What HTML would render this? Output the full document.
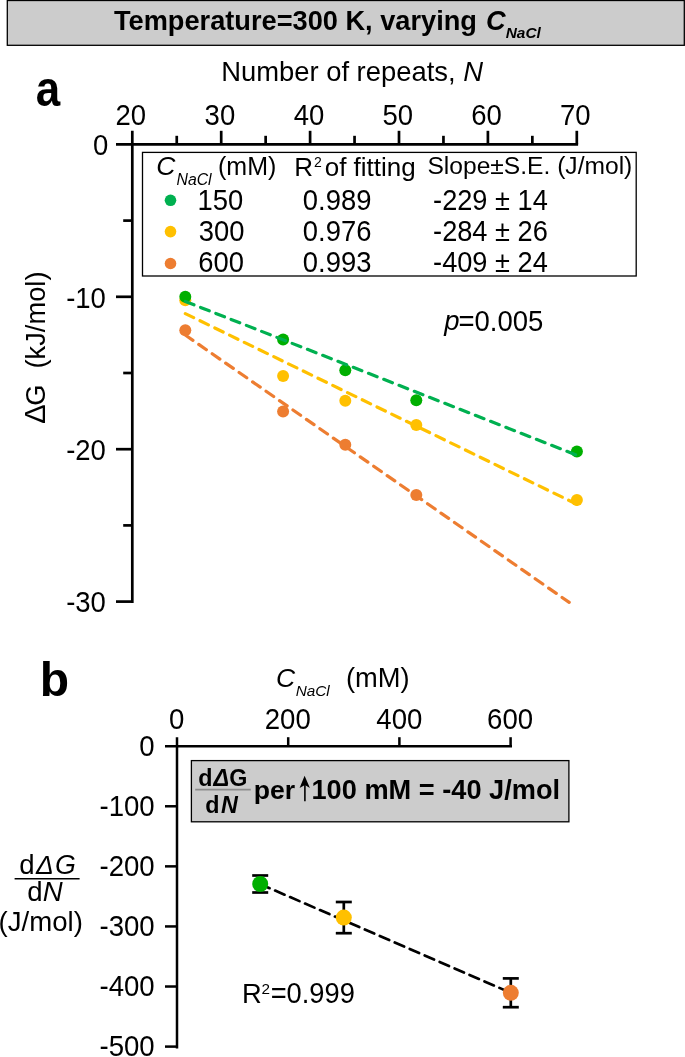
<!DOCTYPE html>
<html><head><meta charset="utf-8"><style>
html,body{margin:0;padding:0;background:#fff;width:685px;height:1057px;overflow:hidden}
svg{display:block;font-family:"Liberation Sans", sans-serif;will-change:transform}
</style></head><body>
<svg width="685" height="1057" viewBox="0 0 685 1057" font-family='"Liberation Sans", sans-serif'>
<rect x="7.3" y="0.5" width="677" height="44.8" fill="#cccccc" stroke="#000" stroke-width="1.3"/>
<text x="113.99" y="29.5" font-size="27.2" font-weight="bold" font-style="normal" >Temperature=300 K, varying </text>
<text x="486.07" y="29.5" font-size="27.2" font-weight="bold" font-style="italic" >C</text>
<text x="505.73" y="37.8" font-size="15.4" font-weight="bold" font-style="italic" >NaCl</text>
<g transform="translate(37.1,105.6) scale(0.915,1.03)">
<text x="-1.41" y="0" font-size="48" font-weight="bold" font-style="normal" >a</text>
</g>
<text x="221.15" y="81.3" font-size="27.4" font-weight="normal" font-style="normal" >Number of repeats, </text>
<text x="463.20" y="81.3" font-size="27.4" font-weight="normal" font-style="italic" >N</text>
<line x1="116.00" y1="144.40" x2="578.10" y2="144.40" stroke="#000" stroke-width="2.7" />
<line x1="132.30" y1="130.80" x2="132.30" y2="603.00" stroke="#000" stroke-width="2.7" />
<line x1="176.75" y1="135.80" x2="176.75" y2="144.40" stroke="#000" stroke-width="2.7" />
<line x1="221.20" y1="130.80" x2="221.20" y2="144.40" stroke="#000" stroke-width="2.7" />
<line x1="265.65" y1="135.80" x2="265.65" y2="144.40" stroke="#000" stroke-width="2.7" />
<line x1="310.10" y1="130.80" x2="310.10" y2="144.40" stroke="#000" stroke-width="2.7" />
<line x1="354.55" y1="135.80" x2="354.55" y2="144.40" stroke="#000" stroke-width="2.7" />
<line x1="399.00" y1="130.80" x2="399.00" y2="144.40" stroke="#000" stroke-width="2.7" />
<line x1="443.45" y1="135.80" x2="443.45" y2="144.40" stroke="#000" stroke-width="2.7" />
<line x1="487.90" y1="130.80" x2="487.90" y2="144.40" stroke="#000" stroke-width="2.7" />
<line x1="532.35" y1="135.80" x2="532.35" y2="144.40" stroke="#000" stroke-width="2.7" />
<line x1="576.80" y1="130.80" x2="576.80" y2="144.40" stroke="#000" stroke-width="2.7" />
<text transform="translate(115.55,124.8) scale(1,1.055)" font-size="27.5" font-weight="normal" font-style="normal" >20</text>
<text transform="translate(204.62,124.8) scale(1,1.055)" font-size="27.5" font-weight="normal" font-style="normal" >30</text>
<text transform="translate(293.73,124.8) scale(1,1.055)" font-size="27.5" font-weight="normal" font-style="normal" >40</text>
<text transform="translate(382.39,124.8) scale(1,1.055)" font-size="27.5" font-weight="normal" font-style="normal" >50</text>
<text transform="translate(471.14,124.8) scale(1,1.055)" font-size="27.5" font-weight="normal" font-style="normal" >60</text>
<text transform="translate(560.04,124.8) scale(1,1.055)" font-size="27.5" font-weight="normal" font-style="normal" >70</text>
<line x1="123.20" y1="220.60" x2="132.30" y2="220.60" stroke="#000" stroke-width="2.7" />
<line x1="116.00" y1="296.80" x2="132.30" y2="296.80" stroke="#000" stroke-width="2.7" />
<line x1="123.20" y1="373.00" x2="132.30" y2="373.00" stroke="#000" stroke-width="2.7" />
<line x1="116.00" y1="449.20" x2="132.30" y2="449.20" stroke="#000" stroke-width="2.7" />
<line x1="123.20" y1="525.40" x2="132.30" y2="525.40" stroke="#000" stroke-width="2.7" />
<line x1="116.00" y1="601.60" x2="132.30" y2="601.60" stroke="#000" stroke-width="2.7" />
<text transform="translate(93.08,155.2) scale(1,1.055)" font-size="27.5" font-weight="normal" font-style="normal" >0</text>
<text transform="translate(66.13,307.6) scale(1,1.055)" font-size="27.5" font-weight="normal" font-style="normal" >-10</text>
<text transform="translate(66.13,460.0) scale(1,1.055)" font-size="27.5" font-weight="normal" font-style="normal" >-20</text>
<text transform="translate(66.13,612.4) scale(1,1.055)" font-size="27.5" font-weight="normal" font-style="normal" >-30</text>
<g transform="translate(45.3,0) rotate(-90)">
<text x="-423.86" y="0" font-size="29" font-weight="normal" font-style="normal" >Δ</text>
<text x="-405.87" y="0" font-size="27.3" font-weight="normal" font-style="normal" >G</text>
<text x="-368.59" y="0" font-size="27.3" font-weight="normal" font-style="normal" >(kJ/mol)</text>
</g>
<rect x="142.5" y="152.4" width="493.7" height="123.6" fill="#fff" stroke="#000" stroke-width="1.3"/>
<text x="156.14" y="174.8" font-size="26.5" font-weight="normal" font-style="italic" >C</text>
<text x="176.51" y="184.6" font-size="15.8" font-weight="normal" font-style="italic" >NaCl</text>
<text x="218.05" y="175.3" font-size="25.0" font-weight="normal" font-style="normal" >(mM)</text>
<text x="294.37" y="176.0" font-size="26" font-weight="normal" font-style="normal" >R</text>
<text x="314.10" y="166.6" font-size="14" font-weight="normal" font-style="normal" >2</text>
<text x="324.71" y="176.0" font-size="26" font-weight="normal" font-style="normal" >of fitting</text>
<text x="427.48" y="173.9" font-size="24.6" font-weight="normal" font-style="normal" >Slope±S.E. (J/mol)</text>
<circle cx="170.5" cy="200.3" r="5.8" fill="#00B050"/>
<text transform="translate(197.61,210.10000000000002) scale(1,1.055)" font-size="27.4" font-weight="normal" font-style="normal" >150</text>
<text transform="translate(302.83,210.10000000000002) scale(1,1.055)" font-size="27.4" font-weight="normal" font-style="normal" >0.989</text>
<text transform="translate(433.09,210.10000000000002) scale(1,1.055)" font-size="27.2" font-weight="normal" font-style="normal" >-229 ± 14</text>
<circle cx="170.5" cy="231.6" r="5.8" fill="#FFC000"/>
<text transform="translate(198.66,240.9) scale(1,1.055)" font-size="27.4" font-weight="normal" font-style="normal" >300</text>
<text transform="translate(302.83,240.9) scale(1,1.055)" font-size="27.4" font-weight="normal" font-style="normal" >0.976</text>
<text transform="translate(433.09,240.9) scale(1,1.055)" font-size="27.2" font-weight="normal" font-style="normal" >-284 ± 26</text>
<circle cx="170.5" cy="263.5" r="5.8" fill="#ED7D31"/>
<text transform="translate(198.31,271.5) scale(1,1.055)" font-size="27.4" font-weight="normal" font-style="normal" >600</text>
<text transform="translate(302.83,271.5) scale(1,1.055)" font-size="27.4" font-weight="normal" font-style="normal" >0.993</text>
<text transform="translate(433.09,271.5) scale(1,1.055)" font-size="27.2" font-weight="normal" font-style="normal" >-409 ± 24</text>
<text x="444.18" y="329.7" font-size="27.5" font-weight="normal" font-style="italic" >p</text>
<text transform="translate(458.48,330.6) scale(1,1.055)" font-size="27.5" font-weight="normal" font-style="normal" >=0.005</text>
<circle cx="185.3" cy="300.3" r="6" fill="#FFC000"/>
<circle cx="283.1" cy="376.0" r="6" fill="#FFC000"/>
<circle cx="345.3" cy="400.8" r="6" fill="#FFC000"/>
<circle cx="416.3" cy="425.0" r="6" fill="#FFC000"/>
<circle cx="576.9" cy="499.9" r="6" fill="#FFC000"/>
<circle cx="185.3" cy="296.7" r="6" fill="#00AF00"/>
<circle cx="283.1" cy="339.5" r="6" fill="#00AF00"/>
<circle cx="345.3" cy="370.3" r="6" fill="#00AF00"/>
<circle cx="416.3" cy="400.2" r="6" fill="#00AF00"/>
<circle cx="576.9" cy="451.6" r="6" fill="#00AF00"/>
<circle cx="185.3" cy="330.3" r="6" fill="#ED7D31"/>
<circle cx="283.1" cy="411.5" r="6" fill="#ED7D31"/>
<circle cx="345.3" cy="444.8" r="6" fill="#ED7D31"/>
<circle cx="416.3" cy="495.0" r="6" fill="#ED7D31"/>
<line x1="185.30" y1="301.40" x2="576.90" y2="455.20" stroke="#00B050" stroke-width="3.2" stroke-dasharray="9.3 7.1" stroke-linecap="round"/>
<line x1="185.30" y1="313.60" x2="576.90" y2="504.30" stroke="#FFC000" stroke-width="3.2" stroke-dasharray="9.3 7.1" stroke-linecap="round"/>
<line x1="185.30" y1="335.00" x2="569.20" y2="602.40" stroke="#ED7D31" stroke-width="3.2" stroke-dasharray="9.3 7.1" stroke-linecap="round"/>
<text x="39.84" y="696.0" font-size="48" font-weight="bold" font-style="normal" >b</text>
<text x="276.04" y="686.5" font-size="26.5" font-weight="normal" font-style="italic" >C</text>
<text x="295.73" y="695.9" font-size="15.3" font-weight="normal" font-style="italic" >NaCl</text>
<text x="345.91" y="686.5" font-size="27.3" font-weight="normal" font-style="normal" >(mM)</text>
<line x1="165.00" y1="746.20" x2="512.00" y2="746.20" stroke="#000" stroke-width="2.5" />
<line x1="177.00" y1="737.20" x2="177.00" y2="1048.50" stroke="#000" stroke-width="2.5" />
<line x1="288.20" y1="737.20" x2="288.20" y2="746.20" stroke="#000" stroke-width="2.5" />
<line x1="399.40" y1="737.20" x2="399.40" y2="746.20" stroke="#000" stroke-width="2.5" />
<line x1="510.60" y1="737.20" x2="510.60" y2="746.20" stroke="#000" stroke-width="2.5" />
<text transform="translate(169.03,728.6) scale(1,1.055)" font-size="27.6" font-weight="normal" font-style="normal" >0</text>
<text transform="translate(264.72,728.6) scale(1,1.055)" font-size="27.6" font-weight="normal" font-style="normal" >200</text>
<text transform="translate(376.30,728.6) scale(1,1.055)" font-size="27.6" font-weight="normal" font-style="normal" >400</text>
<text transform="translate(487.11,728.6) scale(1,1.055)" font-size="27.6" font-weight="normal" font-style="normal" >600</text>
<line x1="165.00" y1="806.28" x2="177.00" y2="806.28" stroke="#000" stroke-width="2.5" />
<line x1="165.00" y1="866.36" x2="177.00" y2="866.36" stroke="#000" stroke-width="2.5" />
<line x1="165.00" y1="926.44" x2="177.00" y2="926.44" stroke="#000" stroke-width="2.5" />
<line x1="165.00" y1="986.52" x2="177.00" y2="986.52" stroke="#000" stroke-width="2.5" />
<line x1="165.00" y1="1046.60" x2="177.00" y2="1046.60" stroke="#000" stroke-width="2.5" />
<text transform="translate(139.13,755.8) scale(1,1.055)" font-size="27.6" font-weight="normal" font-style="normal" >0</text>
<text transform="translate(99.44,815.88) scale(1,1.055)" font-size="27.6" font-weight="normal" font-style="normal" >-100</text>
<text transform="translate(99.44,875.96) scale(1,1.055)" font-size="27.6" font-weight="normal" font-style="normal" >-200</text>
<text transform="translate(99.44,936.04) scale(1,1.055)" font-size="27.6" font-weight="normal" font-style="normal" >-300</text>
<text transform="translate(99.44,996.12) scale(1,1.055)" font-size="27.6" font-weight="normal" font-style="normal" >-400</text>
<text transform="translate(99.44,1056.2) scale(1,1.055)" font-size="27.6" font-weight="normal" font-style="normal" >-500</text>
<rect x="191.4" y="760.6" width="377.5" height="61.2" fill="#cccccc" stroke="#000" stroke-width="1.3"/>
<text x="198.14" y="786.2" font-size="23.3" font-weight="bold" font-style="normal" >d</text>
<text x="213.43" y="786.2" font-size="23.3" font-weight="bold" font-style="italic" >Δ</text>
<text x="229.24" y="786.2" font-size="23.3" font-weight="bold" font-style="normal" >G</text>
<line x1="195.20" y1="789.70" x2="250.80" y2="789.70" stroke="#8c8c8c" stroke-width="1.7" />
<text x="205.14" y="813.2" font-size="23.3" font-weight="bold" font-style="normal" >d</text>
<text x="220.88" y="813.2" font-size="23.3" font-weight="bold" font-style="italic" >N</text>
<text x="253.65" y="798.9" font-size="26.6" font-weight="bold" font-style="normal" >per</text>
<line x1="304.90" y1="784.00" x2="304.90" y2="801.30" stroke="#000" stroke-width="1.6" />
<path d="M304.6,775.7 L309.9,787.9 L304.9,785 L299.6,787.9 Z" fill="#000"/>
<text x="311.49" y="798.9" font-size="27.2" font-weight="bold" font-style="normal" >100 mM = -40 J/mol</text>
<text x="19.24" y="873.9" font-size="27.6" font-weight="normal" font-style="normal" >d</text>
<text x="35.92" y="873.7" font-size="26.4" font-weight="normal" font-style="italic" >Δ</text>
<text x="54.98" y="873.7" font-size="26.8" font-weight="normal" font-style="italic" >G</text>
<line x1="14.60" y1="878.70" x2="79.60" y2="878.70" stroke="#000" stroke-width="1.6" />
<text x="27.34" y="901.0" font-size="27.6" font-weight="normal" font-style="normal" >d</text>
<text x="42.85" y="901.0" font-size="27.6" font-weight="normal" font-style="italic" >N</text>
<text x="-1.41" y="930.5" font-size="27.6" font-weight="normal" font-style="normal" >(J/mol)</text>
<line x1="260.20" y1="884.10" x2="510.80" y2="992.80" stroke="#000" stroke-width="2.7" stroke-dasharray="10.2 6.1" stroke-linecap="round"/>
<line x1="260.20" y1="875.50" x2="260.20" y2="892.50" stroke="#000" stroke-width="2.7" />
<line x1="252.20" y1="875.50" x2="268.20" y2="875.50" stroke="#000" stroke-width="2.7" />
<line x1="252.20" y1="892.50" x2="268.20" y2="892.50" stroke="#000" stroke-width="2.7" />
<circle cx="260.2" cy="884.0" r="8" fill="#00AF00"/>
<line x1="343.80" y1="902.00" x2="343.80" y2="933.20" stroke="#000" stroke-width="2.7" />
<line x1="335.80" y1="902.00" x2="351.80" y2="902.00" stroke="#000" stroke-width="2.7" />
<line x1="335.80" y1="933.20" x2="351.80" y2="933.20" stroke="#000" stroke-width="2.7" />
<circle cx="343.8" cy="917.6" r="8" fill="#FFC000"/>
<line x1="510.80" y1="978.40" x2="510.80" y2="1007.20" stroke="#000" stroke-width="2.7" />
<line x1="502.80" y1="978.40" x2="518.80" y2="978.40" stroke="#000" stroke-width="2.7" />
<line x1="502.80" y1="1007.20" x2="518.80" y2="1007.20" stroke="#000" stroke-width="2.7" />
<circle cx="510.8" cy="992.8" r="8" fill="#ED7D31"/>
<text x="241.96" y="1003.1" font-size="27.3" font-weight="normal" font-style="normal" >R</text>
<text x="261.53" y="994.2" font-size="15.3" font-weight="normal" font-style="normal" >2</text>
<text transform="translate(270.63,1003.3) scale(1,1.055)" font-size="27.3" font-weight="normal" font-style="normal" >=0.999</text>
</svg>
</body></html>
